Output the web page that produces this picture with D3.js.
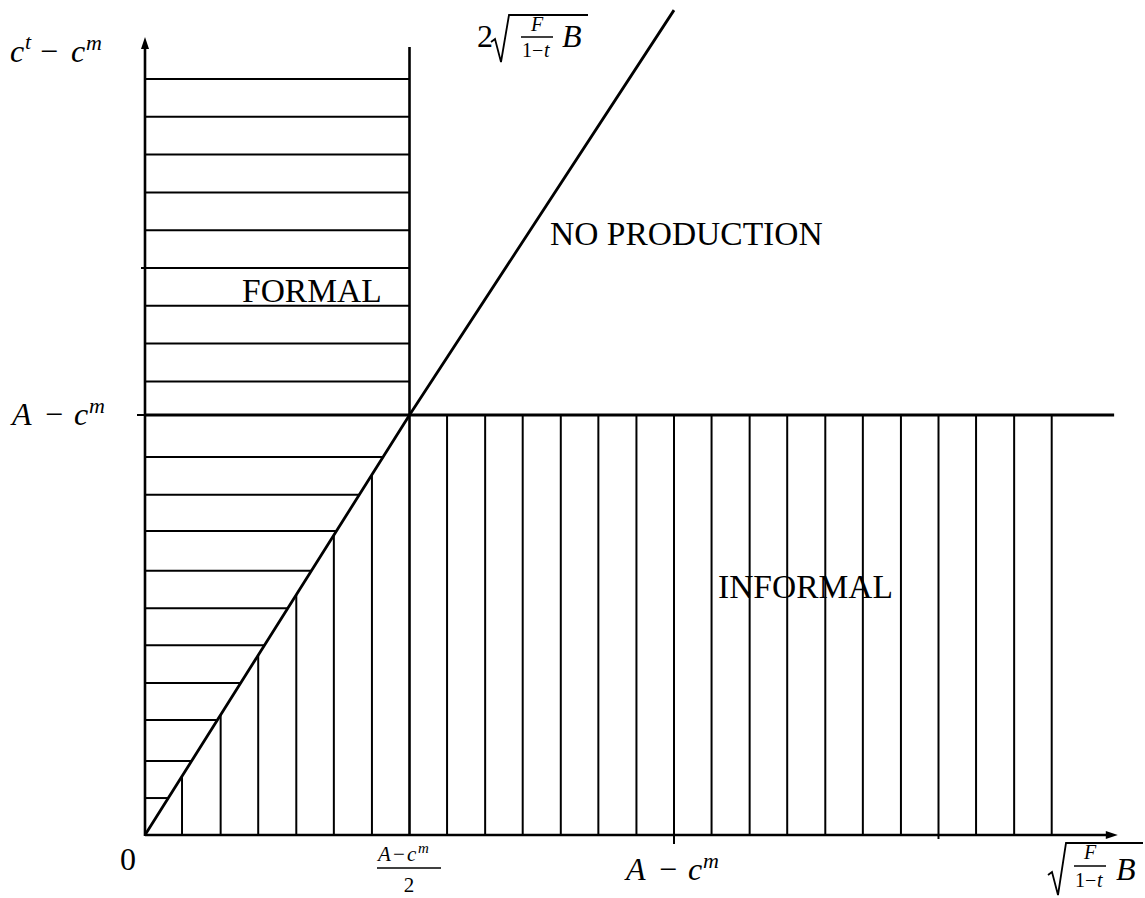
<!DOCTYPE html>
<html>
<head>
<meta charset="utf-8">
<script src="https://cdn.jsdelivr.net/npm/d3@7"></script>
<style>
  html, body { margin: 0; padding: 0; background: #fff; }
  svg { display: block; }
  text { font-family: "Liberation Serif", "Times New Roman", serif; fill: #000; }
</style>
</head>
<body>
<svg id="chart" width="1145" height="898"></svg>
<script>
// ---- data (units: x in multiples of (A - c^m) horizontally, y in multiples of (A - c^m) vertically)
const xTickValues = [1.0, 1.5];
const yTickValues = [1.0, 1.35];
const formalHatchAbove = [1.08, 1.17, 1.26, 1.35, 1.44, 1.53, 1.62, 1.71, 1.80];
const formalHatchBelow = [0.90, 0.81, 0.724, 0.629, 0.54, 0.452, 0.362, 0.274, 0.176, 0.088];
const informalHatchLeft = [0.07, 0.143, 0.214, 0.286, 0.357, 0.429];
const informalHatchRight = [0.571, 0.643, 0.714, 0.786, 0.857, 0.929, 1.0, 1.071, 1.143, 1.214,
                            1.286, 1.357, 1.429, 1.5, 1.571, 1.643, 1.714];
const boundaryX = [0, 0.5, 1.0];
const boundaryY = [0, 1.0, 1.964];
const formalEdgeX = 0.5;      // (A - c^m)/2
const informalEdgeY = 1.0;    // A - c^m
const xAxisEnd = 1.839;
const yAxisEnd = 1.9;
const verticalTop = 1.876;
const horizontalEnd = 1.832;
const regionLabels = ["NO PRODUCTION", "FORMAL", "INFORMAL"];

// ---- scales
const x = d3.scaleLinear().domain([0, 1]).range([145, 674]);
const y = d3.scaleLinear().domain([0, 1]).range([835, 415]);

const svg = d3.select("#chart");
const g = svg.append("g");

const boundary = d3.line().x(d => x(d[0])).y(d => y(d[1]));
const pts = boundaryX.map((v, i) => [v, boundaryY[i]]);
const diagY = xv => d3.scaleLinear().domain(boundaryX).range(boundaryY)(xv);
const diagX = yv => d3.scaleLinear().domain(boundaryY).range(boundaryX)(yv);

const hatchW = 2, mainW = 2.6;

// formal hatching above A - c^m
g.selectAll("line.fa").data(formalHatchAbove).join("line")
  .attr("x1", x(0)).attr("x2", x(formalEdgeX))
  .attr("y1", d => y(d)).attr("y2", d => y(d))
  .attr("stroke", "#000").attr("stroke-width", hatchW);

// formal hatching below A - c^m (ends at boundary)
g.selectAll("line.fb").data(formalHatchBelow).join("line")
  .attr("x1", x(0)).attr("x2", d => x(diagX(d)))
  .attr("y1", d => y(d)).attr("y2", d => y(d))
  .attr("stroke", "#000").attr("stroke-width", hatchW);

// informal hatching left of (A-c^m)/2 (up to boundary)
g.selectAll("line.il").data(informalHatchLeft).join("line")
  .attr("x1", d => x(d)).attr("x2", d => x(d))
  .attr("y1", y(0)).attr("y2", d => y(diagY(d)))
  .attr("stroke", "#000").attr("stroke-width", hatchW);

// informal hatching right
g.selectAll("line.ir").data(informalHatchRight).join("line")
  .attr("x1", d => x(d)).attr("x2", d => x(d))
  .attr("y1", y(0)).attr("y2", y(informalEdgeY))
  .attr("stroke", "#000").attr("stroke-width", hatchW);

// axes
g.append("line").attr("x1", x(0)).attr("x2", x(xAxisEnd) - 10)
  .attr("y1", y(0)).attr("y2", y(0)).attr("stroke", "#000").attr("stroke-width", mainW);
g.append("line").attr("x1", x(0)).attr("x2", x(0))
  .attr("y1", y(0) + 1).attr("y2", y(yAxisEnd) + 10).attr("stroke", "#000").attr("stroke-width", mainW);
// arrowheads
g.append("path")
  .attr("d", `M${x(xAxisEnd)},${y(0)} L${x(xAxisEnd) - 12},${y(0) - 4} L${x(xAxisEnd) - 12},${y(0) + 4} Z`)
  .attr("fill", "#000");
g.append("path")
  .attr("d", `M${x(0)},${y(yAxisEnd)} L${x(0) - 4},${y(yAxisEnd) + 12} L${x(0) + 4},${y(yAxisEnd) + 12} Z`)
  .attr("fill", "#000");

// ticks
g.selectAll("line.xt").data(xTickValues).join("line")
  .attr("x1", d => x(d)).attr("x2", d => x(d))
  .attr("y1", y(0)).attr("y2", (d, i) => y(0) + (i === 0 ? 9 : 4))
  .attr("stroke", "#000").attr("stroke-width", hatchW);
g.selectAll("line.yt").data(yTickValues).join("line")
  .attr("x1", (d, i) => x(0) - (i === 0 ? 8 : 4)).attr("x2", x(0))
  .attr("y1", d => y(d)).attr("y2", d => y(d))
  .attr("stroke", "#000").attr("stroke-width", hatchW);

// main boundaries
g.append("line").attr("x1", x(formalEdgeX)).attr("x2", x(formalEdgeX))
  .attr("y1", y(0)).attr("y2", y(verticalTop)).attr("stroke", "#000").attr("stroke-width", mainW);
g.append("line").attr("x1", x(0)).attr("x2", x(horizontalEnd))
  .attr("y1", y(informalEdgeY)).attr("y2", y(informalEdgeY)).attr("stroke", "#000").attr("stroke-width", 3);
g.append("path").attr("d", boundary(pts)).attr("fill", "none")
  .attr("stroke", "#000").attr("stroke-width", 2.8);

// ---- text helpers
const T = svg.append("g");
function txt(xp, yp, s, size, italic, anchor) {
  return T.append("text").attr("x", xp).attr("y", yp).text(s)
    .attr("font-size", size)
    .attr("font-style", italic ? "italic" : "normal")
    .attr("text-anchor", anchor || "start");
}
function radical(x0, yTop, yBot, xEnd) {
  const p = `M${x0},${yBot - 20} L${x0 + 4},${yBot - 23} L${x0 + 10},${yBot} L${x0 + 18},${yTop} L${xEnd},${yTop}`;
  T.append("path").attr("d", p).attr("fill", "none").attr("stroke", "#000").attr("stroke-width", 1.8)
    .attr("stroke-linejoin", "miter");
}
function bar(x1, x2, yp) {
  T.append("line").attr("x1", x1).attr("x2", x2).attr("y1", yp).attr("y2", yp)
    .attr("stroke", "#000").attr("stroke-width", 1.5);
}

// y-axis title c^t - c^m
txt(10, 62, "c", 32, true);
txt(25, 49, "t", 22, true);
txt(40, 62, "\u2212", 32, false);
txt(71, 62, "c", 32, true);
txt(86, 50, "m", 22, true);

// y label A - c^m
txt(12, 425, "A", 32, true);
txt(45, 425, "\u2212", 32, false);
txt(74, 425, "c", 32, true);
txt(89, 413, "m", 22, true);

// top formula 2 sqrt(F/(1-t) B)
txt(477, 47, "2", 32, false);
radical(491, 15, 62, 588);
txt(537, 31, "F", 20, true, "middle");
bar(521, 553, 37);
txt(522, 57, "1\u2212", 20, false);
txt(544, 57, "t", 20, true);
txt(562, 47, "B", 32, true);

// region labels
txt(550, 245, regionLabels[0], 33.5, false);
txt(242, 302, regionLabels[1], 33.5, false);
txt(718, 598, regionLabels[2], 33.5, false);

// x labels
txt(120, 870, "0", 32, false);
// (A - c^m)/2
txt(378, 861, "A", 21, true);
txt(393, 861, "\u2212", 21, false);
txt(407, 861, "c", 21, true);
txt(418, 853, "m", 15, true);
bar(377, 441, 868);
txt(409, 892, "2", 21, false, "middle");
// A - c^m
txt(626, 880, "A", 32, true);
txt(659, 880, "\u2212", 32, false);
txt(688, 880, "c", 32, true);
txt(703, 868, "m", 22, true);
// sqrt(F/(1-t) B)
radical(1048, 843, 895, 1143);
txt(1090, 859, "F", 20, true, "middle");
bar(1074, 1106, 866);
txt(1075, 887, "1\u2212", 20, false);
txt(1097, 887, "t", 20, true);
txt(1116, 880, "B", 32, true);
</script>
</body>
</html>
